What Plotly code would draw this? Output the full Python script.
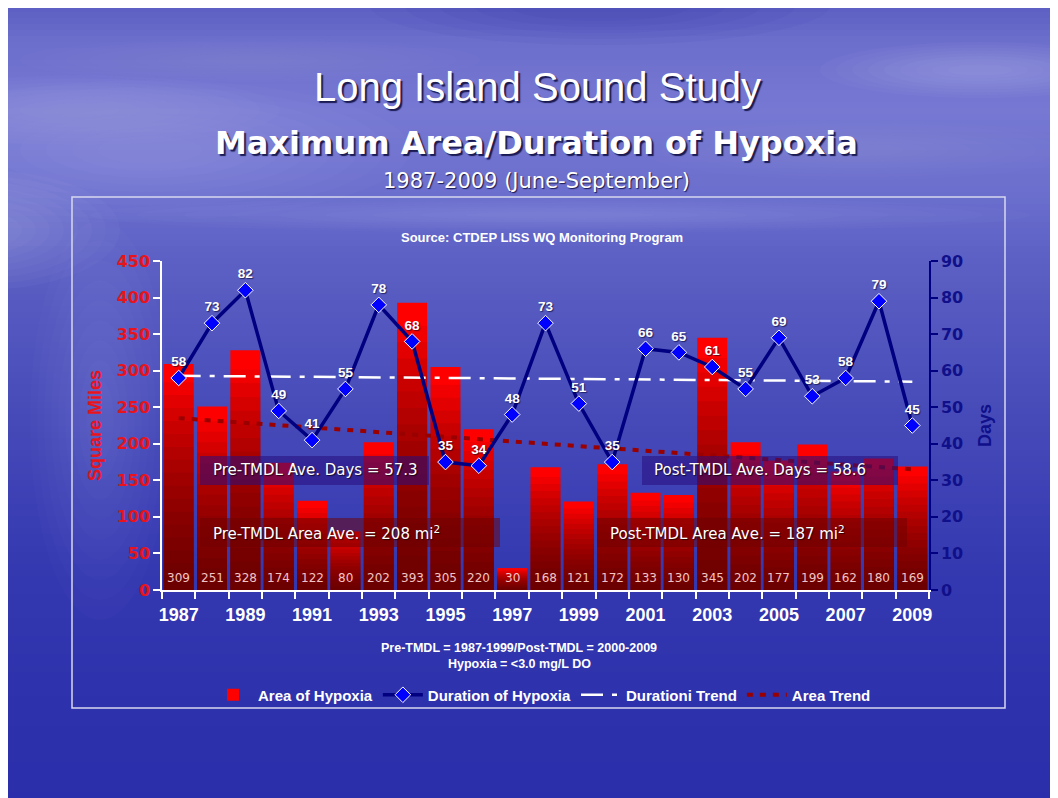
import plotly.graph_objects as go

# ---------------- data ----------------
years = [str(y) for y in range(1987, 2010)]
area_sq_miles = [309, 251, 328, 174, 122, 80, 202, 393, 305, 220, 30, 168, 121,
                 172, 133, 130, 345, 202, 177, 199, 162, 180, 169]
duration_days = [58, 73, 82, 49, 41, 55, 78, 68, 35, 34, 48, 73, 51,
                 35, 66, 65, 61, 55, 69, 53, 58, 79, 45]
trend_years = ["1987", "2009"]
duration_trend = [58.6, 57.0]
area_trend = [235, 165]
x_tick_labels = [y if int(y) % 2 == 1 else "" for y in years]

W, H = 1058, 798
OFF = 8  # page body margin
L, R, T, B = 162 - OFF, 929 - OFF, 261 - OFF, 590 - OFF   # plot area in figure pixels


def px(x):
    """page x pixel -> paper x"""
    return (x - OFF - L) / (R - L)


def py(y):
    """page y pixel -> paper y"""
    return (B - (y - OFF)) / (B - T)


fig = go.Figure()

# ---------------- background ----------------
shapes = []
stops = [(0, (90, 92, 192)), (40, (108, 110, 204)), (110, (118, 120, 210)),
         (190, (108, 111, 205)), (250, (94, 98, 197)), (330, (82, 86, 190)),
         (420, (70, 74, 184)), (500, (60, 64, 180)), (580, (52, 56, 176)),
         (680, (46, 50, 172)), (810, (42, 46, 170))]


def col_at(y):
    for (y0, c0), (y1, c1) in zip(stops[:-1], stops[1:]):
        if y0 <= y <= y1:
            t = (y - y0) / (y1 - y0)
            return tuple(round(a + (b - a) * t) for a, b in zip(c0, c1))
    return stops[-1][1]


step = 6
for y in range(0, H + 16, step):
    c = col_at(y + step / 2)
    shapes.append(dict(type="rect", xref="paper", yref="paper", layer="below",
                       x0=px(-5), x1=px(W + 20), y0=py(y), y1=py(y + step + 1),
                       fillcolor="rgb(%d,%d,%d)" % c, line_width=0))


def blob(cx, cy, rx, ry, alpha, n=9):
    for k in range(n):
        f = 1 - k * 0.1
        shapes.append(dict(type="circle", xref="paper", yref="paper", layer="below",
                           x0=px(cx - rx * f), x1=px(cx + rx * f),
                           y0=py(cy + ry * f), y1=py(cy - ry * f),
                           fillcolor="rgba(225,226,250,%.3f)" % alpha, line_width=0))


# cloud-ish lighter areas
blob(150, 150, 260, 70, 0.025)
blob(80, 110, 200, 35, 0.025)
blob(250, 60, 230, 22, 0.02)
blob(980, 70, 160, 28, 0.03)
blob(860, 150, 220, 30, 0.02)
blob(560, 215, 470, 18, 0.025)
blob(100, 420, 70, 200, 0.02)
blob(-20, 230, 140, 60, 0.03)
# darker patch near top centre
for k in range(5):
    f = 1 - k * 0.15
    shapes.append(dict(type="circle", xref="paper", yref="paper", layer="below",
                       x0=px(600 - 230 * f), x1=px(600 + 230 * f),
                       y0=py(5 + 40 * f), y1=py(5 - 40 * f),
                       fillcolor="rgba(60,60,170,0.07)", line_width=0))

# chart frame
shapes.append(dict(type="rect", xref="paper", yref="paper", layer="below",
                   x0=px(72), x1=px(1005), y0=py(197), y1=py(708),
                   fillcolor="rgba(0,0,0,0)", line=dict(color="#d8d8ee", width=1.5)))

# text boxes
boxes = [(200, 429, 456, 485, "rgba(40,12,125,0.55)"),
         (200, 500, 518, 547, "rgba(110,0,0,0.5)"),
         (642, 898, 456, 485, "rgba(40,12,125,0.55)"),
         (597, 907, 518, 547, "rgba(110,0,0,0.5)")]
for x0, x1, y0, y1, c in boxes:
    shapes.append(dict(type="rect", xref="paper", yref="paper", layer="above",
                       x0=px(x0), x1=px(x1), y0=py(y1), y1=py(y0),
                       fillcolor=c, line_width=0))

# ---------------- traces ----------------
fig.add_trace(go.Bar(x=years, y=area_sq_miles, name="Area of Hypoxia",
                     marker=dict(color="#ff0000", line_width=0),
                     legendrank=1, hoverinfo="x+y"))
# gradient shading inside each bar (darker towards the base)
n_shade = 16
for k in range(n_shade):
    f = 0.92 - k * (0.86 / (n_shade - 1))
    fig.add_trace(go.Bar(x=years, y=[v * f for v in area_sq_miles],
                         marker=dict(color="rgba(60,0,0,0.075)", line_width=0),
                         showlegend=False, hoverinfo="skip"))

fig.add_trace(go.Scatter(x=trend_years, y=area_trend, name="Area Trend",
                         mode="lines", line=dict(color="#9a0000", width=4, dash="6px,7px"),
                         legendrank=4))
fig.add_trace(go.Scatter(x=trend_years, y=duration_trend, name="Durationi Trend", yaxis="y2",
                         mode="lines",
                         line=dict(color="white", width=2.5, dash="22px,9px,5px,9px"),
                         legendrank=3))
fig.add_trace(go.Scatter(x=years, y=duration_days, name="Duration of Hypoxia", yaxis="y2",
                         mode="lines+markers+text",
                         line=dict(color="#000080", width=3.5),
                         marker=dict(symbol="diamond", size=12, color="#0000ff",
                                     line=dict(color="white", width=1)),
                         text=[str(v) for v in duration_days], textposition="top center",
                         textfont=dict(family="Liberation Sans, Arial", size=13.5,
                                       color="white", weight="bold",
                                       shadow="1px 1px 1px rgba(0,0,40,0.6)"),
                         legendrank=2))

# ---------------- annotations ----------------
ann = []
for i, v in enumerate(area_sq_miles):
    ann.append(dict(x=i, y=0, xref="x", yref="y", text=str(v), showarrow=False,
                    yanchor="bottom", yshift=3,
                    font=dict(family="DejaVu Sans, Verdana", size=12, color="#f2c4c4")))


def text(x, y, s, size, family="Liberation Sans, Arial", weight="normal",
         color="white", xanchor="center", shadow="none"):
    ann.append(dict(x=px(x), y=py(y), xref="paper", yref="paper", text=s,
                    showarrow=False, xanchor=xanchor, yanchor="middle",
                    font=dict(family=family, size=size, color=color, weight=weight,
                              shadow=shadow)))


text(537, 87, "Long Island Sound Study", 40,
     shadow="2px 2px 1px rgba(10,10,60,0.85)")
text(536, 143, "Maximum Area/Duration of Hypoxia", 32, family="DejaVu Sans, Verdana",
     weight="bold", shadow="2px 2px 1px rgba(10,10,60,0.85)")
text(536, 181, "1987-2009 (June-September)", 21, family="DejaVu Sans, Verdana",
     shadow="1px 1px 1px rgba(10,10,60,0.85)")
text(542, 237, "Source: CTDEP LISS WQ Monitoring Program", 13, weight="bold")
sh = "1px 1px 1px rgba(0,0,0,0.7)"
text(211, 470, "Pre-TMDL Ave. Days = 57.3", 15, family="DejaVu Sans, Verdana",
     xanchor="left", shadow=sh)
text(211, 533, "Pre-TMDL Area Ave. = 208 mi<sup>2</sup>", 15, family="DejaVu Sans, Verdana",
     xanchor="left", shadow=sh)
text(652, 470, "Post-TMDL Ave. Days = 58.6", 15, family="DejaVu Sans, Verdana",
     xanchor="left", shadow=sh)
text(608, 533, "Post-TMDL Area Ave. = 187 mi<sup>2</sup>", 15, family="DejaVu Sans, Verdana",
     xanchor="left", shadow=sh)
text(519, 648, "Pre-TMDL = 1987-1999/Post-TMDL = 2000-2009", 12.5,
     family="Liberation Sans Narrow, Liberation Sans, Arial", weight="bold")
text(519, 664, "Hypoxia = &lt;3.0 mg/L DO", 12.5,
     family="Liberation Sans Narrow, Liberation Sans, Arial", weight="bold")

# ---------------- layout ----------------
fig.update_layout(
    width=W, height=H,
    margin=dict(l=L, r=W - R, t=T, b=H - B, pad=0),
    paper_bgcolor="#4a4eb8", plot_bgcolor="rgba(0,0,0,0)",
    barmode="overlay", bargap=0.1,
    shapes=shapes, annotations=ann,
    showlegend=True,
    legend=dict(orientation="h", x=px(208), y=py(695), xanchor="left", yanchor="middle",
                bgcolor="rgba(0,0,0,0)", itemwidth=40, traceorder="normal",
                font=dict(family="Liberation Sans, Arial", size=15, color="white",
                          weight="bold")),
    xaxis=dict(type="category", range=[-0.5, len(years) - 0.5],
               tickvals=years, ticktext=x_tick_labels, tickangle=0,
               ticklabelstandoff=8,
               tickson="boundaries", ticks="outside", ticklen=7, tickcolor="white",
               tickwidth=1.5, showline=True, linecolor="white", linewidth=1.5,
               showgrid=False, zeroline=False,
               tickfont=dict(family="Liberation Sans, Arial", size=18, color="white",
                             weight="bold")),
    yaxis=dict(range=[0, 450], dtick=50, ticks="outside", ticklen=7, tickcolor="white",
               tickwidth=1.5, showline=True, linecolor="white", linewidth=1.5,
               showgrid=False, zeroline=False,
               tickfont=dict(family="DejaVu Sans, Verdana", size=16, color="#e8141c",
                             weight="bold"),
               title=dict(text="Square Miles", standoff=10,
                          font=dict(family="Liberation Sans, Arial", size=18,
                                    color="#e8141c", weight="bold"))),
    yaxis2=dict(range=[0, 90], dtick=10, overlaying="y", side="right",
                ticks="outside", ticklen=7, tickcolor="#000080", tickwidth=1.5,
                showline=True, linecolor="#000080", linewidth=1.5,
                showgrid=False, zeroline=False,
                tickfont=dict(family="DejaVu Sans, Verdana", size=16, color="#10108a",
                              weight="bold"),
                title=dict(text="Days", standoff=16,
                           font=dict(family="Liberation Sans, Arial", size=18,
                                     color="#10108a", weight="bold"))),
)

fig.write_html("out.html")
